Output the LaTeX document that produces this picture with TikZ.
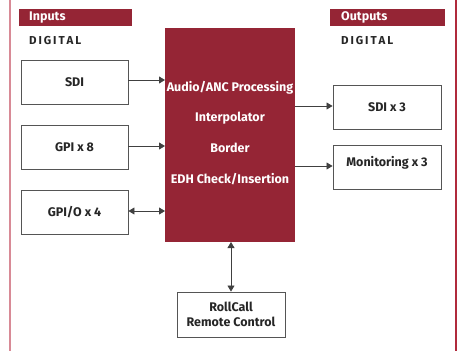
\documentclass[tikz,border=0pt]{standalone}
\usepackage{fontspec}
\setmainfont{Fira Sans}
\usetikzlibrary{arrows.meta}
\definecolor{wine}{HTML}{952535}
\definecolor{edgered}{HTML}{B02A3C}
\definecolor{edgepink}{HTML}{D88A96}
\definecolor{boxline}{HTML}{555555}
\tikzset{
  x=1pt, y=-1pt,
  mainfont/.style={font=\bfseries\fontsize{12.5}{14}\selectfont},
  iobox/.style={draw=boxline, line width=0.9pt, fill=white, mainfont, text=black!85},
  headtext/.style={anchor=west, text=white, font=\bfseries\fontsize{12.5}{14}\selectfont, inner sep=0pt},
  sublabel/.style={font=\bfseries\fontsize{11.5}{13}\selectfont, text=black!85, anchor=west, inner sep=0pt},
  link/.style={line width=0.8pt, draw=black!75, -{Triangle[length=6pt,width=7pt]}},
  duplex/.style={line width=0.8pt, draw=black!75, {Triangle[length=6pt,width=7pt]}-{Triangle[length=6pt,width=7pt]}},
  coretext/.style={text=white, mainfont, inner sep=0pt}
}
\begin{document}
\begin{tikzpicture}
\useasboundingbox (0,0) rectangle (460,351);
% side rules
\draw[edgepink, line width=1.6pt] (10,0) -- (10,351);
\draw[edgered, line width=1.4pt] (456,0) -- (456,351);

% heading bars
\fill[wine] (19,9) rectangle (132,26);
\node[headtext] (inlbl) at (29,17.5) {Inputs};
\fill[wine] (330,9) rectangle (445,26);
\node[headtext] (outlbl) at (341,17.5) {Outputs};
\node[sublabel] (indig) at (29,41) {D\,I\,G\,I\,T\,A\,L};
\node[sublabel] (outdig) at (341,41) {D\,I\,G\,I\,T\,A\,L};

% processing core
\fill[wine] (165,28) rectangle (295,242);
\node[coretext] (t1) at (230,88) {Audio/ANC Processing};
\node[coretext] (t2) at (230,118) {Interpolator};
\node[coretext] (t3) at (230,148) {Border};
\node[coretext] (t4) at (230,179) {EDH Check/Insertion};

% input boxes
\node[iobox, minimum width=107pt, minimum height=44pt] (sdi) at (74.5,82) {SDI};
\node[iobox, minimum width=107pt, minimum height=44pt] (gpi) at (74.5,147.5) {GPI x 8};
\node[iobox, minimum width=107pt, minimum height=44pt] (gpio) at (74.5,212.5) {GPI/O x 4};

% output boxes
\node[iobox, minimum width=108pt, minimum height=44pt] (sdio) at (387,107.5) {SDI x 3};
\node[iobox, minimum width=108pt, minimum height=44pt] (mon) at (387,167) {};
\node[mainfont, text=black!85] (monlbl) at (387,162.5) {Monitoring x 3};

% control box
\node[iobox, minimum width=108pt, minimum height=45pt, align=center, font=\bfseries\fontsize{12.5}{15}\selectfont] (rc) at (231,314.5) {RollCall\\Remote Control};

% connectors
\coordinate (cin1) at (165,80);
\coordinate (cin2) at (165,146);
\coordinate (cin3) at (165,211);
\coordinate (cout1) at (295,106);
\coordinate (cout2) at (295,166);
\coordinate (cbot) at (231,242);
\draw[link] (sdi.east |- cin1) -- (cin1);
\draw[link] (gpi.east |- cin2) -- (cin2);
\draw[duplex] (gpio.east |- cin3) -- (cin3);
\draw[link] (cout1) -- (sdio.west |- cout1);
\draw[link] (cout2) -- (mon.west |- cout2);
\draw[duplex] (cbot) -- (rc.north);
\end{tikzpicture}
\end{document}
